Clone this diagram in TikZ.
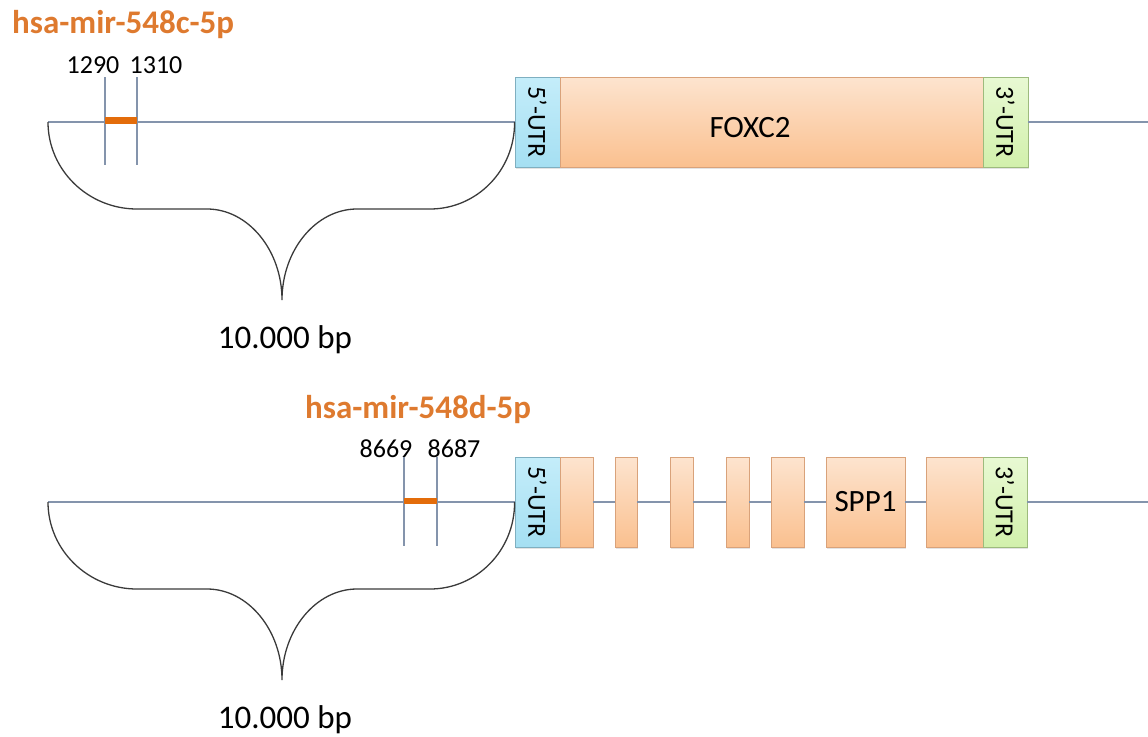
\documentclass[tikz,border=0pt]{standalone}
\usepackage{fontspec}
\setmainfont{Carlito}
\usetikzlibrary{shadows}
\definecolor{linegray}{HTML}{8494AC}
\definecolor{mirorange}{HTML}{E36C0A}
\definecolor{titleorange}{HTML}{DE7A2F}
\definecolor{exontop}{HTML}{FDE4CF}
\definecolor{exonbot}{HTML}{FAC08F}
\definecolor{exonedge}{HTML}{D9A27A}
\definecolor{utrfivetop}{HTML}{C4EDFA}
\definecolor{utrfivebot}{HTML}{A5DFF2}
\definecolor{utrfiveedge}{HTML}{7FAFC0}
\definecolor{utrthreetop}{HTML}{E8F9D3}
\definecolor{utrthreebot}{HTML}{D2F0AC}
\definecolor{utrthreeedge}{HTML}{9DBB7D}
\definecolor{bracecol}{HTML}{3A3A3A}
\tikzset{
  genebox/.style={minimum height=90pt, inner sep=0pt, line width=0.9pt,
    drop shadow={opacity=0.22, shadow xshift=1.2pt, shadow yshift=-1.5pt}},
  exonbox/.style={genebox, draw=exonedge, top color=exontop, bottom color=exonbot},
  utrfivebox/.style={genebox, draw=utrfiveedge, top color=utrfivetop, bottom color=utrfivebot,
    minimum width=45pt},
  utrthreebox/.style={genebox, draw=utrthreeedge, top color=utrthreetop, bottom color=utrthreebot,
    minimum width=45pt},
  utrtext/.style={rotate=-90, font=\fontsize{26}{28}\selectfont},
  genestroke/.style={draw=linegray, line width=2pt},
  tickline/.style={draw=linegray, line width=1.6pt},
  siteline/.style={draw=mirorange, line width=6.5pt},
  braceline/.style={draw=bracecol, line width=1.3pt},
  mirtitle/.style={font=\fontsize{33}{36}\selectfont\bfseries, text=titleorange, anchor=west, inner sep=0pt},
  posnum/.style={font=\fontsize{26}{28}\selectfont, inner sep=0pt},
  spanlabel/.style={font=\fontsize{33}{36}\selectfont, inner sep=0pt},
  genename/.style={font=\fontsize{31}{33}\selectfont, inner sep=0pt},
}
\begin{document}
\begin{tikzpicture}[x=1pt, y=-1pt]
\useasboundingbox (0,0) rectangle (1148,736);

% ---------------- FOXC2 ----------------
\node[mirtitle] (mirA) at (12,25) {hsa-mir-548c-5p};
\coordinate (lineAstart) at (48,122);
\coordinate (lineAend) at (1148,122);

\node[utrfivebox] (fiveA) at (537.5,122) {};
\node[exonbox, minimum width=423pt] (foxc2) at (771.5,122) {};
\node[utrthreebox] (threeA) at (1005.5,122) {};
\node[utrtext] at (fiveA.center) {5’-UTR};
\node[utrtext] at (threeA.center) {3’-UTR};
\node[genename] (foxcname) at (750,128) {FOXC2};

\draw[genestroke] (lineAstart) -- (fiveA.west);
\draw[genestroke] (threeA.east) -- (lineAend);

\coordinate (tA1top) at (105,77);
\coordinate (tA1bot) at (105,165);
\coordinate (tA2top) at (137,77);
\coordinate (tA2bot) at (137,165);
\draw[tickline] (tA1top) -- (tA1bot);
\draw[tickline] (tA2top) -- (tA2bot);
\coordinate (sA1) at (105,120.5);
\coordinate (sA2) at (137,120.5);
\draw[siteline] (sA1) -- (sA2);
\node[posnum] (pA1) at (93,65) {1290};
\node[posnum] (pA2) at (156,65) {1310};

\draw[braceline] (lineAstart) .. controls (48,170) and (88,209) .. (137,209)
  -- (207,209) .. controls (248,209) and (282,250) .. (282,300)
  .. controls (282,250) and (316,209) .. (357,209)
  -- (430,209) .. controls (477,209) and (515,170) .. (fiveA.west);
\node[spanlabel] (bpA) at (285,340) {10.000 bp};

% ---------------- SPP1 ----------------
\node[mirtitle] (mirB) at (305,410) {hsa-mir-548d-5p};
\coordinate (lineBstart) at (48,502);
\coordinate (lineBend) at (1148,502);

\node[utrfivebox] (fiveB) at (537.5,502) {};
\node[exonbox, minimum width=33pt] (e1) at (576.5,502) {};
\node[exonbox, minimum width=22pt] (e2) at (626,502) {};
\node[exonbox, minimum width=23pt] (e3) at (681.5,502) {};
\node[exonbox, minimum width=23pt] (e4) at (737.5,502) {};
\node[exonbox, minimum width=33pt] (e5) at (787.5,502) {};
\node[exonbox, minimum width=79pt] (spp1) at (865.5,502) {};
\node[exonbox, minimum width=57pt] (e7) at (954.5,502) {};
\node[utrthreebox, minimum width=44pt] (threeB) at (1005,502) {};
\node[utrtext] at (fiveB.center) {5’-UTR};
\node[utrtext] at (threeB.center) {3’-UTR};
\node[genename] at (spp1.center) {SPP1};

\draw[genestroke] (lineBstart) -- (fiveB.west);
\draw[genestroke] (e1.east) -- (e2.west);
\draw[genestroke] (e2.east) -- (e3.west);
\draw[genestroke] (e3.east) -- (e4.west);
\draw[genestroke] (e4.east) -- (e5.west);
\draw[genestroke] (e5.east) -- (spp1.west);
\draw[genestroke] (spp1.east) -- (e7.west);
\draw[genestroke] (threeB.east) -- (lineBend);

\coordinate (tB1top) at (404,457);
\coordinate (tB1bot) at (404,546);
\coordinate (tB2top) at (437,457);
\coordinate (tB2bot) at (437,546);
\draw[tickline] (tB1top) -- (tB1bot);
\draw[tickline] (tB2top) -- (tB2bot);
\coordinate (sB1) at (404,501);
\coordinate (sB2) at (437,501);
\draw[siteline] (sB1) -- (sB2);
\node[posnum] (pB1) at (386,449) {8669};
\node[posnum] (pB2) at (454,449) {8687};

\draw[braceline] (lineBstart) .. controls (48,550) and (88,589) .. (137,589)
  -- (207,589) .. controls (248,589) and (282,630) .. (282,680)
  .. controls (282,630) and (316,589) .. (357,589)
  -- (430,589) .. controls (477,589) and (515,550) .. (fiveB.west);
\node[spanlabel] (bpB) at (285,720) {10.000 bp};
\end{tikzpicture}
\end{document}
